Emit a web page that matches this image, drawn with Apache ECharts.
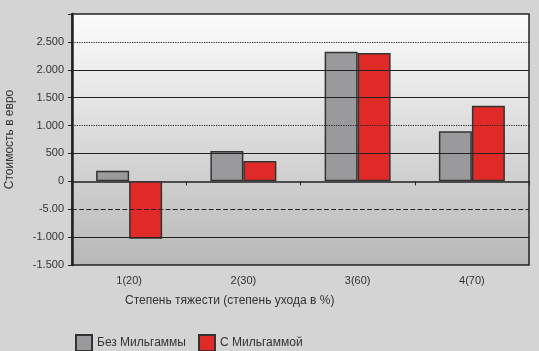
<!DOCTYPE html>
<html>
<head>
<meta charset="utf-8">
<script src="https://cdn.jsdelivr.net/npm/echarts@6/dist/echarts.min.js"></script>
<style>
body{margin:0;background:#d4d4d4;}
#myChart{width:539px;height:351px;}
</style>
</head>
<body>
<div id="myChart"></div>
<script>
// data
var categories = ['1(20)', '2(30)', '3(60)', '4(70)'];
var withoutMilgamma = [190, 545, 2325, 900];
var withMilgamma = [-1030, 365, 2300, 1355];
var yTicks = [-1500, -1000, -500, 0, 500, 1000, 1500, 2000, 2500, 3000];
var yTickLabels = ['-1.500', '-1.000', '-5.00', '0', '500', '1.000', '1.500', '2.000', '2.500', ''];
// gridline styles per value
var gridLineValues = [2500, 2000, 1500, 1000, 500, -500, -1000];
var gridLineTypes = ['dotted', 'solid', 'solid', 'dotted', 'solid', 'dashed', 'solid'];

var font = 'Liberation Sans, Arial, sans-serif';
var barBorder = {borderColor: '#333', borderWidth: 1.5};

var markData = gridLineValues.map(function (v, i) {
  return {yAxis: v, lineStyle: {type: gridLineTypes[i], color: '#222', width: 1.2}};
});

var option = {
  backgroundColor: '#d4d4d4',
  animation: false,
  grid: {
    left: 72, right: 10, top: 14, bottom: 86,
    outerBoundsMode: 'none',
    containLabel: false,
    show: true,
    borderColor: '#222',
    borderWidth: 1.5,
    backgroundColor: {
      type: 'linear', x: 0, y: 0, x2: 0, y2: 1,
      colorStops: [{offset: 0, color: '#fcfcfc'}, {offset: 1, color: '#b8b8b8'}]
    }
  },
  legend: {
    left: 70, top: 329,
    icon: 'rect',
    itemWidth: 16, itemHeight: 16, itemGap: 12,
    textStyle: {fontFamily: font, fontSize: 12, color: '#333'},
    data: ['Без Мильгаммы', 'С Мильгаммой']
  },
  graphic: [{
    type: 'text', left: 125, top: 295,
    style: {text: 'Степень тяжести (степень ухода в %)', font: '12px ' + font, fill: '#333'}
  }],
  xAxis: [{
    type: 'category',
    data: categories,
    axisLine: {onZero: true, lineStyle: {color: '#222', width: 1.5}},
    axisTick: {show: true, length: 4, inside: false, lineStyle: {color: '#222'}},
    axisLabel: {show: false},
    splitLine: {show: false}
  }, {
    type: 'category',
    data: categories,
    position: 'bottom',
    offset: 0,
    axisLine: {show: false},
    axisTick: {show: false},
    axisLabel: {fontFamily: font, fontSize: 11, color: '#333', margin: 10}
  }],
  yAxis: {
    type: 'value',
    min: -1500, max: 3000, interval: 500,
    name: 'Стоимость в евро',
    nameLocation: 'middle',
    nameGap: 56,
    nameTextStyle: {fontFamily: font, fontSize: 12, color: '#333'},
    axisLine: {show: true, lineStyle: {color: '#222', width: 2.5}},
    axisTick: {show: true, length: 4, lineStyle: {color: '#222'}},
    axisLabel: {
      fontFamily: font, fontSize: 11, color: '#333', margin: 8,
      formatter: function (v) {
        var i = yTicks.indexOf(v);
        return i >= 0 ? yTickLabels[i] : '';
      }
    },
    splitLine: {show: false}
  },
  series: [{
    type: 'line',
    data: [],
    z: 1,
    markLine: {silent: true, symbol: 'none', label: {show: false}, data: markData}
  }, {
    name: 'Без Мильгаммы',
    type: 'bar',
    z: 3,
    barWidth: 33,
    barGap: '0%',
    data: withoutMilgamma,
    itemStyle: Object.assign({color: '#9a9a9c'}, barBorder)
  }, {
    name: 'С Мильгаммой',
    type: 'bar',
    z: 3,
    barWidth: 33,
    barGap: '0%',
    data: withMilgamma,
    itemStyle: Object.assign({color: '#e02a27'}, barBorder)
  }]
};

var myChart = echarts.init(document.getElementById('myChart'));
myChart.setOption(option);
</script>
</body>
</html>
